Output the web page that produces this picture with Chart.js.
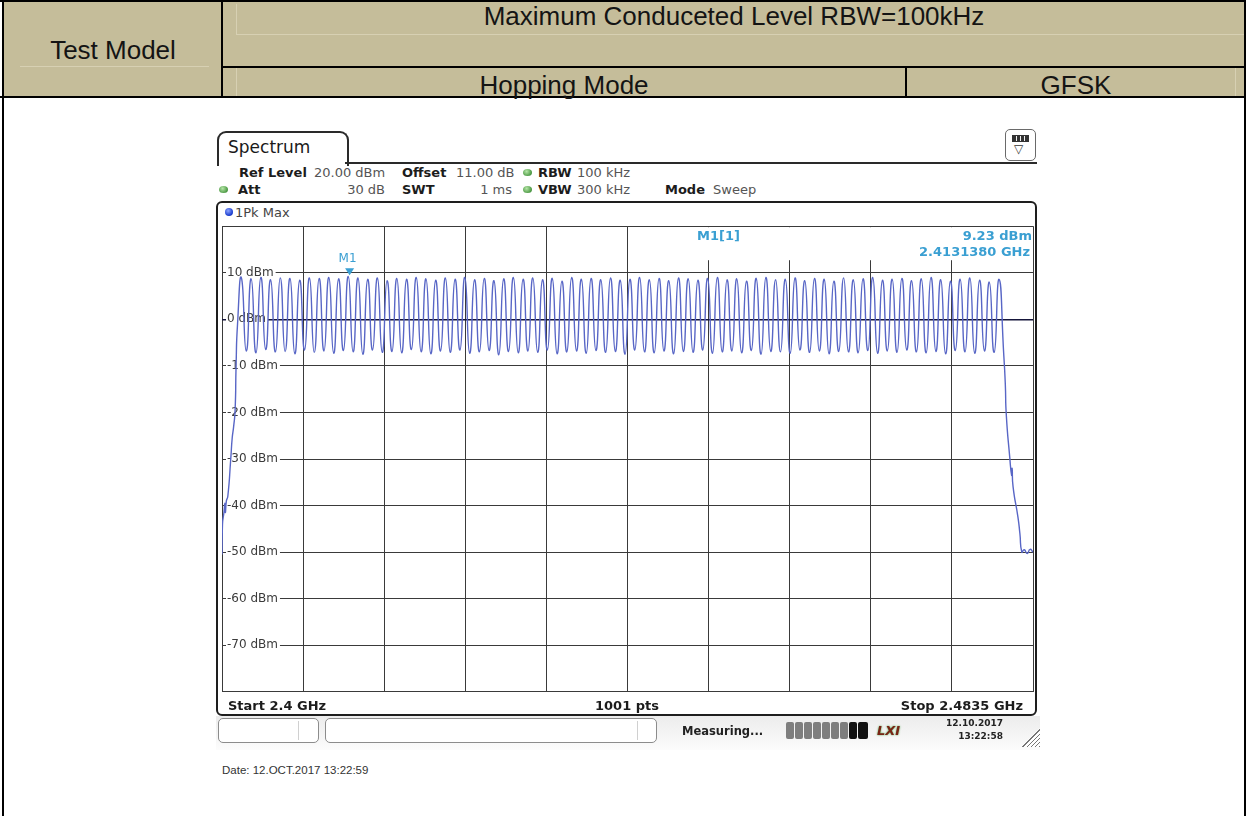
<!DOCTYPE html>
<html>
<head>
<meta charset="utf-8">
<title>Maximum Conduceted Level - Hopping Mode GFSK</title>
<script src="https://cdn.jsdelivr.net/npm/chart.js@4.4.1/dist/chart.umd.min.js"></script>
<style>
  html, body { margin: 0; padding: 0; }
  body { width: 1246px; height: 816px; position: relative; overflow: hidden; background: #fff;
         font-family: "Liberation Sans", Arial, sans-serif; }
  .a { position: absolute; }
  .rule { position: absolute; background: #000; }
  .faint { position: absolute; background: #d7d0b3; }
  .cell { position: absolute; font-size: 26px; line-height: 30px; color: #141414; text-align: center; white-space: nowrap; }
  .sa { position: absolute; font-family: "DejaVu Sans", Verdana, sans-serif; font-size: 13px; line-height: 15px;
        white-space: nowrap; color: #555; }
  .sa.b { font-weight: bold; color: #1c1c1c; }
  .led { position: absolute; width: 9px; height: 7px; border-radius: 50%;
         background: radial-gradient(circle at 40% 35%, #b6e6a8, #4d9a45 70%, #3a7a34); }
  .box { position: absolute; box-sizing: border-box; border: 1px solid #8c8c8c; border-radius: 5px; background: #fff; }
  .seg { position: absolute; top: 0; width: 8px; height: 17px; background: #7e7e7e; border-radius: 2px; }
</style>
</head>
<body>

<!-- report table header -->
<div class="a" style="left:3px;top:0;width:1243px;height:97px;background:#c5bd9a"></div>
<div class="faint" style="left:236px;top:34px;width:1008px;height:1px"></div>
<div class="faint" style="left:236px;top:4px;width:1px;height:30px"></div>
<div class="faint" style="left:20px;top:66px;width:189px;height:1px"></div>
<div class="faint" style="left:236px;top:68px;width:1px;height:28px"></div>
<div class="faint" style="left:1235px;top:68px;width:1px;height:28px"></div>

<div class="rule" style="left:0;top:0;width:1246px;height:2px"></div>
<div class="rule" style="left:2px;top:0;width:2px;height:816px"></div>
<div class="rule" style="left:1244px;top:0;width:2px;height:816px"></div>
<div class="rule" style="left:221px;top:0;width:2px;height:97px"></div>
<div class="rule" style="left:222px;top:66px;width:1024px;height:2px"></div>
<div class="rule" style="left:0;top:96px;width:1246px;height:2px"></div>
<div class="rule" style="left:905px;top:67px;width:2px;height:30px"></div>

<div class="cell" style="left:222px;top:1px;width:1024px">Maximum Conduceted Level RBW=100kHz</div>
<div class="cell" style="left:4px;top:35px;width:218px">Test Model</div>
<div class="cell" style="left:222px;top:70px;width:684px">Hopping Mode</div>
<div class="cell" style="left:906px;top:70px;width:340px">GFSK</div>

<!-- analyzer window: tab and settings -->
<div class="a" style="left:217px;top:131px;width:128px;height:33px;border:2px solid #2a2a2a;border-bottom:none;border-radius:9px 9px 0 0"></div>
<div class="a" style="left:345px;top:162px;width:692px;height:2px;background:#2a2a2a"></div>
<div class="sa" style="left:228px;top:139px;font-size:17px;line-height:17px;color:#1a1a1a">Spectrum</div>

<div class="a" style="left:1005px;top:129px;width:29px;height:30px;border:1.5px solid #6a6a6a;border-radius:5px"></div>
<div class="a" style="left:1012px;top:135px;width:15px;height:5px;border:1px solid #333;background:repeating-linear-gradient(90deg,#333 0 3px,#eee 3px 4px)"></div>
<div class="sa" style="left:1014px;top:142px;font-size:12px;color:#333">&#9661;</div>

<div class="sa b" style="left:239px;top:165px">Ref Level</div>
<div class="sa" style="left:314px;top:165px">20.00 dBm</div>
<div class="sa b" style="left:402px;top:165px">Offset</div>
<div class="sa" style="left:456px;top:165px">11.00 dB</div>
<div class="led" style="left:523px;top:169px"></div>
<div class="sa b" style="left:538px;top:165px">RBW</div>
<div class="sa" style="left:577px;top:165px">100 kHz</div>

<div class="led" style="left:219px;top:186px"></div>
<div class="sa b" style="left:238px;top:182px">Att</div>
<div class="sa" style="left:305px;top:182px;width:80px;text-align:right">30 dB</div>
<div class="sa b" style="left:402px;top:182px">SWT</div>
<div class="sa" style="left:432px;top:182px;width:80px;text-align:right">1 ms</div>
<div class="led" style="left:523px;top:186px"></div>
<div class="sa b" style="left:538px;top:182px">VBW</div>
<div class="sa" style="left:577px;top:182px">300 kHz</div>
<div class="sa b" style="left:665px;top:182px">Mode</div>
<div class="sa" style="left:713px;top:182px">Sweep</div>

<!-- diagram frame -->
<div class="a" style="left:216px;top:201px;width:821px;height:515px;box-sizing:border-box;border:2px solid #1e1e1e;border-radius:6px"></div>
<div class="a" style="left:225px;top:208px;width:8px;height:8px;border-radius:50%;background:radial-gradient(circle at 40% 35%,#8fa6ff,#1d3fd0 65%,#12289a)"></div>
<div class="sa" style="left:235px;top:205px;color:#444">1Pk Max</div>

<div class="a" style="left:212px;top:214px;width:831px;height:490px">
  <canvas id="trace" width="831" height="490"></canvas>
</div>

<div class="sa b" style="left:228px;top:698px">Start 2.4 GHz</div>
<div class="sa b" style="left:527px;top:698px;width:200px;text-align:center">1001 pts</div>
<div class="sa b" style="left:823px;top:698px;width:200px;text-align:right">Stop 2.4835 GHz</div>

<!-- status bar -->
<div class="a" style="left:216px;top:716px;width:824px;height:34px;background:linear-gradient(#ececec,#fcfcfc)"></div>
<div class="box" style="left:218px;top:718px;width:101px;height:25px"></div>
<div class="a" style="left:298px;top:721px;width:1px;height:19px;background:#d0d0d0"></div>
<div class="box" style="left:325px;top:718px;width:332px;height:25px"></div>
<div class="a" style="left:637px;top:721px;width:1px;height:19px;background:#d0d0d0"></div>
<div class="sa b" style="left:682px;top:724px;font-size:11.5px;color:#222">Measuring...</div>
<div class="a" style="left:786px;top:722px;width:82px;height:17px">
  <div class="seg" style="left:0"></div><div class="seg" style="left:9px"></div><div class="seg" style="left:18px"></div>
  <div class="seg" style="left:27px"></div><div class="seg" style="left:36px"></div><div class="seg" style="left:45px"></div>
  <div class="seg" style="left:54px"></div><div class="seg" style="left:63px;background:#111"></div>
  <div class="seg" style="left:72px;width:10px;background:#111"></div>
</div>
<div class="sa b" style="left:877px;top:723px;font-style:italic;font-size:13px;color:#7a2416;text-shadow:0 0 2px #3fa03f">LXI</div>
<div class="sa b" style="left:903px;top:718px;width:100px;text-align:right;font-size:9px;line-height:11px;color:#222">12.10.2017</div>
<div class="sa b" style="left:903px;top:731px;width:100px;text-align:right;font-size:9px;line-height:11px;color:#222">13:22:58</div>
<div class="a" style="left:1021px;top:728px;width:19px;height:19px;clip-path:polygon(100% 0,100% 100%,0 100%);background:repeating-linear-gradient(135deg,#fff 0 2px,#777 2px 3px)"></div>

<div class="a" style="left:222px;top:763px;font-size:11.5px;line-height:14px;color:#333">Date: 12.OCT.2017 13:22:59</div>

<script>
// sweep 2.4 GHz .. 2.4835 GHz, 10 divisions
const spanMHz = [2400, 2483.5];
const xDivisions = [2400, 2408.35, 2416.7, 2425.05, 2433.4, 2441.75, 2450.1, 2458.45, 2466.8, 2475.15, 2483.5];
const refLevel = 20;
const bottomLevel = -80;

// lower band edge
const startMHz = [2400.0, 2400.05, 2400.2, 2400.3, 2400.35, 2400.45, 2400.6, 2400.9, 2401.05, 2401.2, 2401.35, 2401.45, 2401.6];
const startDbm = [-50.5, -44, -41.5, -39.5, -41.5, -39, -38, -30, -25.5, -23, -19.5, -10, -1];

// hopping channels, peak level of each channel
const channelMHz = [
  2402, 2403, 2404, 2405, 2406, 2407, 2408, 2409, 2410, 2411,
  2412, 2413, 2414, 2415, 2416, 2417, 2418, 2419, 2420, 2421,
  2422, 2423, 2424, 2425, 2426, 2427, 2428, 2429, 2430, 2431,
  2432, 2433, 2434, 2435, 2436, 2437, 2438, 2439, 2440, 2441,
  2442, 2443, 2444, 2445, 2446, 2447, 2448, 2449, 2450, 2451,
  2452, 2453, 2454, 2455, 2456, 2457, 2458, 2459, 2460, 2461,
  2462, 2463, 2464, 2465, 2466, 2467, 2468, 2469, 2470, 2471,
  2472, 2473, 2474, 2475, 2476, 2477, 2478, 2479, 2480
];
const peakDbm = [
  8.9, 8.7, 9.0, 8.5, 8.9, 8.8, 8.4, 8.9, 8.8, 9.0,
  8.7, 9.23, 8.9, 8.6, 8.9, 8.3, 8.8, 8.6, 9.0, 8.7,
  8.4, 8.9, 8.6, 9.0, 8.5, 8.8, 8.3, 8.7, 9.0, 8.6,
  8.9, 8.5, 8.8, 8.2, 9.0, 8.6, 8.8, 8.5, 8.9, 8.4,
  8.6, 9.0, 8.5, 8.8, 8.3, 8.9, 8.7, 8.4, 8.8, 9.0,
  8.5, 8.7, 8.2, 8.8, 9.0, 8.5, 8.6, 8.9, 8.3, 8.8,
  8.6, 8.2, 8.9, 8.5, 8.7, 9.0, 8.4, 8.6, 8.8, 8.3,
  8.7, 9.0, 8.5, 8.2, 8.6, 8.9, 8.4, 8.0, 8.6
];
// dip between a channel and the next one
const troughDbm = [
  -6.8, -7.2, -6.5, -7.0, -6.9, -7.4, -6.6, -7.1, -6.8, -7.3,
  -6.7, -7.0, -7.5, -6.6, -7.1, -6.9, -7.2, -6.5, -7.0, -7.4,
  -6.8, -7.1, -6.6, -7.3, -7.0, -6.7, -7.6, -6.9, -7.2, -6.8,
  -7.1, -6.6, -7.4, -7.0, -6.8, -7.3, -6.7, -7.1, -6.9, -7.5,
  -6.6, -7.0, -7.2, -6.8, -7.4, -6.9, -7.1, -6.6, -7.3, -7.0,
  -6.8, -7.2, -6.7, -7.5, -6.9, -7.0, -7.3, -6.6, -7.1, -6.8,
  -7.4, -6.9, -7.0, -7.2, -6.7, -7.3, -6.8, -7.1, -6.6, -7.0,
  -7.2, -6.9, -7.4, -6.7, -7.0, -7.3, -6.8, -7.1
];

// upper band edge
const stopMHz = [2480.5, 2480.65, 2480.75, 2481.1, 2481.3, 2481.35, 2481.45, 2481.95, 2482.15, 2482.35, 2482.6, 2482.9, 2483.2, 2483.5];
const stopDbm = [-8, -14, -20.5, -29.5, -33.5, -32, -36, -42.5, -46, -50, -49.5, -50.3, -49.4, -50];

// marker M1
const markerMHz = 2413.138;
const markerDbm = 9.23;

const traceColor = '#5866c6';
const markerColor = '#3a9fd2';

const points = [];
startMHz.forEach((f, i) => points.push({ x: f, y: startDbm[i] }));
channelMHz.forEach((f, i) => {
  points.push({ x: f, y: peakDbm[i] });
  if (i < troughDbm.length) points.push({ x: (f + channelMHz[i + 1]) / 2, y: troughDbm[i] });
});
stopMHz.forEach((f, i) => points.push({ x: f, y: stopDbm[i] }));

const saFont = '"DejaVu Sans", Verdana, sans-serif';

// marker readout box (top right) and the M1 flag on the trace
const markerPlugin = {
  id: 'markerPlugin',
  beforeDatasetsDraw(chart) {
    const { ctx, chartArea, scales } = chart;
    const left = scales.x.getPixelForValue(xDivisions[5]) + 1;
    ctx.save();
    ctx.fillStyle = '#fff';
    ctx.fillRect(left, chartArea.top + 1, chartArea.right - left - 1, 33);
    ctx.restore();
  },
  afterDatasetsDraw(chart) {
    const { ctx, chartArea, scales } = chart;
    const mx = scales.x.getPixelForValue(markerMHz);
    const my = scales.y.getPixelForValue(markerDbm);
    ctx.save();
    ctx.fillStyle = markerColor;
    ctx.font = 'bold 13px ' + saFont;
    ctx.textBaseline = 'middle';
    ctx.textAlign = 'left';
    ctx.fillText('M1[1]', chartArea.left + 475, chartArea.top + 10);
    ctx.textAlign = 'right';
    ctx.fillText(markerDbm.toFixed(2) + ' dBm', chartArea.right - 1, chartArea.top + 10);
    ctx.fillText((markerMHz / 1000).toFixed(7) + ' GHz', chartArea.right - 3, chartArea.top + 26);

    // flag
    ctx.beginPath();
    ctx.moveTo(mx - 4.5, my - 8);
    ctx.lineTo(mx + 4.5, my - 8);
    ctx.lineTo(mx, my - 1);
    ctx.closePath();
    ctx.fill();
    ctx.font = '12px ' + saFont;
    ctx.textAlign = 'center';
    ctx.fillText('M1', mx - 2, my - 17);
    ctx.restore();
  }
};

new Chart(document.getElementById('trace'), {
  type: 'line',
  data: {
    datasets: [{
      label: '1Pk Max',
      data: points,
      borderColor: traceColor,
      borderWidth: 1.4,
      pointRadius: 0,
      tension: 0.6,
      fill: false
    }]
  },
  options: {
    responsive: false,
    animation: false,
    events: [],
    layout: { padding: { left: 10, right: 10, top: 10, bottom: 10 } },
    plugins: { legend: { display: false }, tooltip: { enabled: false } },
    scales: {
      x: {
        type: 'linear',
        min: spanMHz[0],
        max: spanMHz[1],
        afterBuildTicks: axis => { axis.ticks = xDivisions.map(v => ({ value: v })); },
        afterFit: axis => { axis.height = 0; },
        ticks: { display: false },
        border: { display: false },
        grid: { color: '#3a3a3a', lineWidth: 1, drawTicks: false }
      },
      y: {
        type: 'linear',
        min: bottomLevel,
        max: refLevel,
        afterFit: axis => { axis.width = 0; },
        border: { display: false },
        grid: {
          drawTicks: false,
          color: c => c.tick && c.tick.value === 0 ? '#15153a' : '#3a3a3a',
          lineWidth: c => c.tick && c.tick.value === 0 ? 1.6 : 1
        },
        ticks: {
          stepSize: 10,
          mirror: true,
          padding: 5,
          color: '#3b3b3b',
          font: { family: saFont, size: 12 },
          showLabelBackdrop: true,
          backdropPadding: { left: 1, right: 2, top: 0, bottom: 0 },
          backdropColor: c => (c.tick.value === refLevel || c.tick.value === bottomLevel) ? 'rgba(0,0,0,0)' : '#fff',
          callback: v => (v === refLevel || v === bottomLevel) ? '' : v + ' dBm'
        }
      }
    }
  },
  plugins: [markerPlugin]
});
</script>
</body>
</html>
